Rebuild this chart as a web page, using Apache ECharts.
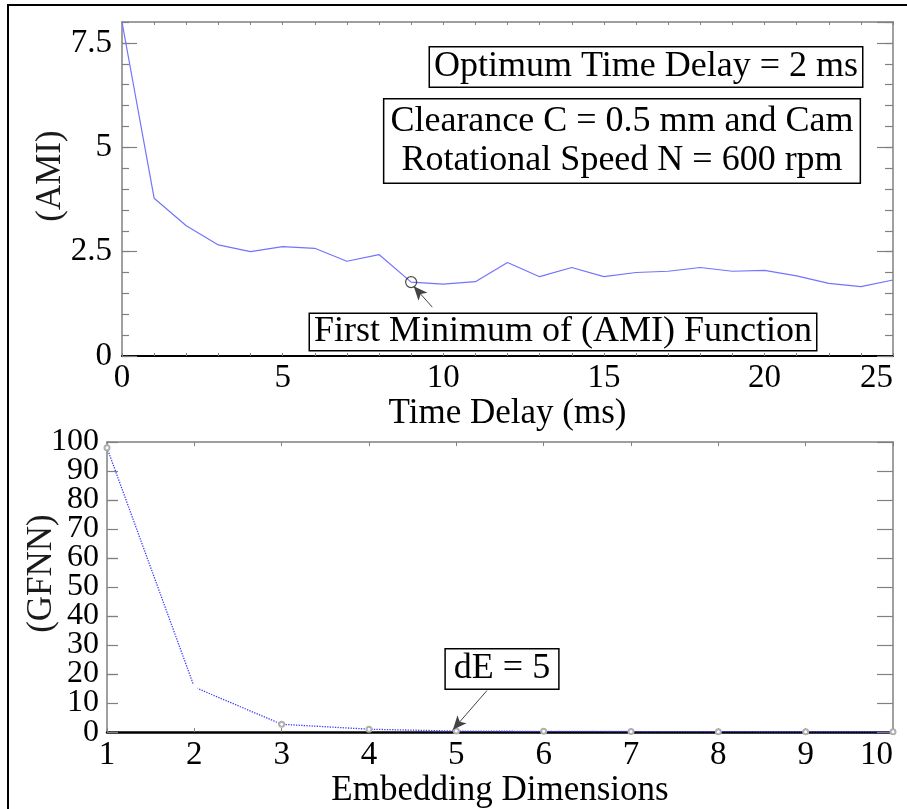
<!DOCTYPE html>
<html>
<head>
<meta charset="utf-8">
<script src="https://cdn.jsdelivr.net/npm/echarts@6/dist/echarts.min.js"></script>
<style>html,body{margin:0;padding:0;background:#fff}#c{width:907px;height:809px}</style>
</head>
<body>
<div id="c"></div>
<script>
// ---- data ----
const timeDelay = [0,1,2,3,4,5,6,7,8,9,10,11,12,13,14,15,16,17,18,19,20,21,22,23,24];
const ami = [8.0,3.78,3.12,2.66,2.50,2.62,2.58,2.27,2.43,1.77,1.72,1.78,2.24,1.90,2.12,1.90,2.00,2.03,2.12,2.03,2.05,1.92,1.74,1.66,1.82];
const embDim = [1,2,3,4,5,6,7,8,9,10];
const gfnn = [98,15.5,2.7,1.0,0.35,0.25,0.2,0.15,0.1,0.1];
const delayXTicks = ['0','5','10','15','20','25'];
const amiYTicks = ['0','2.5','5','7.5'];
const dimXTicks = ['1','2','3','4','5','6','7','8','9','10'];
const gfnnYTicks = ['0','10','20','30','40','50','60','70','80','90','100'];
const markedDelayIndex = 9;

const FONT = '"Liberation Serif", "Times New Roman", serif';
const TICKFS = 33;
const ANNFS = 36;
const GRAY = '#808080';
const delayMax = timeDelay[timeDelay.length - 1];

const chart = echarts.init(document.getElementById('c'), null, {renderer: 'canvas'});

const lbl = {fontFamily: FONT, fontSize: TICKFS, color: '#000', showMinLabel: true, showMaxLabel: true, hideOverlap: false};
function baseAxis(extra) {
  return Object.assign({
    splitLine: {show: false},
    axisLine: {show: true, onZero: false, lineStyle: {color: GRAY, width: 1.5}},
    axisTick: {show: true, inside: true, length: 4, lineStyle: {color: GRAY, width: 1}},
    axisLabel: {show: false}
  }, extra);
}

const option = {
  animation: false,
  backgroundColor: '#fff',
  grid: [
    {left: 122, top: 22, width: 771, height: 334},
    {left: 107, top: 442, width: 786, height: 293}
  ],
  xAxis: [
    baseAxis({type: 'value', gridIndex: 0, position: 'bottom', min: 0, max: delayMax, interval: 1,
      axisLine: {show: true, onZero: false, lineStyle: {color: '#000', width: 2}},
      axisTick: {show: true, inside: true, length: 3, lineStyle: {color: GRAY}},
      axisLabel: Object.assign({show: true, margin: 6, alignMaxLabel: 'right',
        formatter: v => v === delayMax ? delayXTicks[delayXTicks.length - 1] : (v % 5 === 0 ? delayXTicks[v / 5] : '')}, lbl),
      name: 'Time Delay (ms)', nameLocation: 'middle', nameGap: 36,
      nameTextStyle: {fontFamily: FONT, fontSize: 35, color: '#000'}}),
    baseAxis({type: 'value', gridIndex: 0, position: 'top', min: 0, max: delayMax, interval: 1,
      axisTick: {show: true, inside: true, length: 3, lineStyle: {color: GRAY}}}),
    baseAxis({type: 'value', gridIndex: 1, position: 'bottom', min: 1, max: 10, interval: 1,
      axisLine: {show: true, onZero: false, lineStyle: {color: '#000', width: 2.5}},
      axisTick: {show: true, inside: true, length: 4, lineStyle: {color: GRAY}},
      axisLabel: Object.assign({show: true, margin: 7, alignMaxLabel: 'right',
        formatter: v => dimXTicks[v - 1]}, lbl),
      name: 'Embedding Dimensions', nameLocation: 'middle', nameGap: 33,
      nameTextStyle: {fontFamily: FONT, fontSize: 35, color: '#000'}}),
    baseAxis({type: 'value', gridIndex: 1, position: 'top', min: 1, max: 10, interval: 1,
      axisTick: {show: true, inside: true, length: 4, lineStyle: {color: GRAY}}})
  ],
  yAxis: [
    baseAxis({type: 'value', gridIndex: 0, position: 'left', min: 0, max: 8, interval: 2.5,
      axisTick: {show: true, inside: true, length: 15, lineStyle: {color: GRAY, width: 1.2}},
      axisLabel: Object.assign({}, lbl, {show: true, margin: 10, showMaxLabel: false,
        formatter: v => (v % 2.5 === 0 ? amiYTicks[v / 2.5] : '')}),
      name: '(AMI)', nameLocation: 'middle', nameGap: 54, nameMoveOverlap: false,
      nameTextStyle: {fontFamily: FONT, fontSize: 35, color: '#1a1a1a', padding: [0, 0, 0, 26]}}),
    baseAxis({type: 'value', gridIndex: 0, position: 'left', min: 0, max: 8, interval: 0.5,
      axisLine: {show: false, onZero: false},
      axisTick: {show: true, inside: true, length: 7, lineStyle: {color: GRAY, width: 1.2}}}),
    baseAxis({type: 'value', gridIndex: 0, position: 'right', min: 0, max: 8, interval: 2.5,
      axisTick: {show: true, inside: true, length: 16, lineStyle: {color: GRAY, width: 1.2}}}),
    baseAxis({type: 'value', gridIndex: 0, position: 'right', min: 0, max: 8, interval: 0.5,
      axisLine: {show: false, onZero: false},
      axisTick: {show: true, inside: true, length: 8, lineStyle: {color: GRAY, width: 1.2}}}),
    // GFNN left axis: even labels (0,20,...,100) + ticks
    baseAxis({type: 'value', gridIndex: 1, position: 'left', min: 0, max: 100, interval: 20,
      axisTick: {show: true, inside: true, length: 11, lineStyle: {color: GRAY, width: 1.2}},
      axisLabel: Object.assign({}, lbl, {show: true, margin: 8, fontSize: 32,
        formatter: v => gfnnYTicks[v / 10]}),
      name: '(GFNN)', nameLocation: 'middle', nameGap: 48, nameMoveOverlap: false,
      nameTextStyle: {fontFamily: FONT, fontSize: 35, color: '#1a1a1a', padding: [0, 0, 0, 27]}}),
    baseAxis({type: 'value', gridIndex: 1, position: 'right', min: 0, max: 100, interval: 10,
      axisTick: {show: true, inside: true, length: 16, lineStyle: {color: GRAY, width: 1.2}}}),
    // GFNN left axis: odd labels (10,30,...,90) + ticks
    baseAxis({type: 'value', gridIndex: 1, position: 'left', min: 0, max: 100, interval: 10,
      axisLine: {show: false, onZero: false},
      axisTick: {show: true, inside: true, length: 11, lineStyle: {color: GRAY, width: 1.2}},
      axisLabel: Object.assign({}, lbl, {show: true, margin: 8, fontSize: 32,
        showMinLabel: false, showMaxLabel: false,
        formatter: v => (v % 20 === 10 ? gfnnYTicks[v / 10] : '')})})
  ],
  series: [
    {
      type: 'line', xAxisIndex: 0, yAxisIndex: 0,
      data: timeDelay.map((t, i) => [t, ami[i]]),
      symbol: 'none', lineStyle: {color: '#7373ff', width: 1.2}, z: 3
    },
    {
      type: 'scatter', xAxisIndex: 0, yAxisIndex: 0,
      data: [[timeDelay[markedDelayIndex], ami[markedDelayIndex]]],
      symbol: 'circle', symbolSize: 11,
      itemStyle: {color: 'rgba(255,255,255,0)', borderColor: '#222', borderWidth: 1.2}, z: 4,
      markLine: {
        silent: true, animation: false,
        symbol: ['none', 'arrow'], symbolSize: [9, 14],
        lineStyle: {color: '#444', width: 1, type: 'solid'},
        itemStyle: {color: '#000'},
        label: {show: false},
        data: [[{coord: [9.66, 1.17]}, {coord: [9.08, 1.67]}]]
      }
    },
    {
      type: 'line', xAxisIndex: 2, yAxisIndex: 4,
      data: embDim.map((d, i) => ({
        value: [d, gfnn[i]],
        itemStyle: i === 1 ? {color: '#fff', borderColor: '#333', borderWidth: 1} : undefined
      })),
      symbol: 'emptyCircle', symbolSize: 5, showAllSymbol: true,
      itemStyle: {color: '#b0b0b0', borderColor: '#b0b0b0', borderWidth: 1.2},
      lineStyle: {color: '#3a3aff', width: 1.3, type: 'dotted'}, z: 3,
      markLine: {
        silent: true, animation: false,
        symbol: ['none', 'arrow'], symbolSize: [9, 14],
        lineStyle: {color: '#444', width: 1, type: 'solid'},
        itemStyle: {color: '#000'},
        label: {show: false},
        data: [[{coord: [5.35, 14.3]}, {coord: [4.96, 0.8]}]]
      }
    }
  ],
  graphic: [
    {type: 'rect', silent: true, shape: {x: 8, y: 5, width: 1000, height: 1000},
      style: {fill: 'none', stroke: '#000', lineWidth: 2}},
    {type: 'text', silent: true, x: 646, y: 67, z: 10,
      style: {text: 'Optimum Time Delay = 2 ms', font: ANNFS + 'px ' + FONT, fill: '#000',
        align: 'center', verticalAlign: 'middle', backgroundColor: '#fff',
        borderColor: '#000', borderWidth: 1.5, padding: [2, 4, 1, 4]}},
    {type: 'text', silent: true, x: 622, y: 141, z: 10,
      style: {text: 'Clearance C = 0.5 mm and Cam\nRotational Speed N = 600 rpm', font: ANNFS + 'px ' + FONT,
        lineHeight: 39, fill: '#000', align: 'center', verticalAlign: 'middle', backgroundColor: '#fff',
        borderColor: '#000', borderWidth: 1.5, padding: [3, 6, 2, 6]}},
    {type: 'text', silent: true, x: 563, y: 332, z: 10,
      style: {text: 'First Minimum of (AMI) Function', font: ANNFS + 'px ' + FONT, fill: '#000',
        align: 'center', verticalAlign: 'middle', backgroundColor: '#fff',
        borderColor: '#000', borderWidth: 1.5, padding: [0, 4, 0, 4]}},
    {type: 'text', silent: true, x: 502, y: 669, z: 10,
      style: {text: 'dE = 5', font: ANNFS + 'px ' + FONT, fill: '#000',
        align: 'center', verticalAlign: 'middle', backgroundColor: '#fff',
        borderColor: '#000', borderWidth: 1.5, padding: [2, 8, 1, 8]}}
  ]
};
chart.setOption(option);
</script>
</body>
</html>
